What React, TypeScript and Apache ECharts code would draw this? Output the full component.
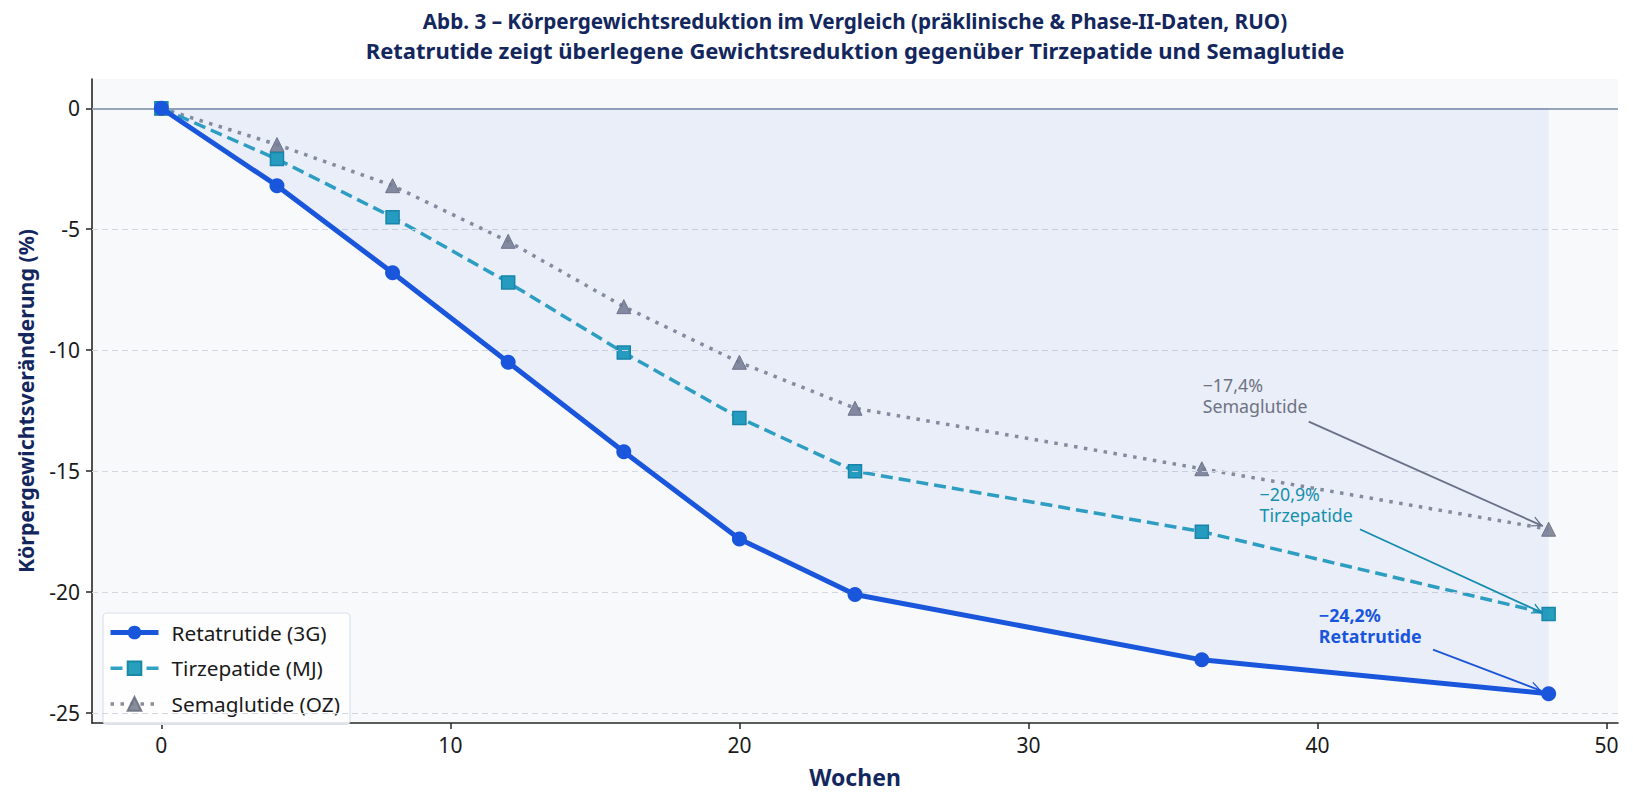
import React, { useEffect, useRef } from "react";
import * as echarts from "echarts";

// ---- data ----
const weeks = [0, 4, 8, 12, 16, 20, 24, 36, 48];
const retatrutide = [0, -3.2, -6.8, -10.5, -14.2, -17.8, -20.1, -22.8, -24.2];
const tirzepatide = [0, -2.1, -4.5, -7.2, -10.1, -12.8, -15.0, -17.5, -20.9];
const semaglutide = [0, -1.5, -3.2, -5.5, -8.2, -10.5, -12.4, -14.9, -17.4];
const seriesNames = ["Retatrutide (3G)", "Tirzepatide (MJ)", "Semaglutide (OZ)"];
const drugNames = ["Retatrutide", "Tirzepatide", "Semaglutide"];
const xTicks = [0, 10, 20, 30, 40, 50];
const yTicks = [0, -5, -10, -15, -20, -25];
const gridTicks = [-5, -10, -15, -20, -25];

const titleLines = [
  "Abb. 3 – Körpergewichtsreduktion im Vergleich (präklinische & Phase-II-Daten, RUO)",
  "Retatrutide zeigt überlegene Gewichtsreduktion gegenüber Tirzepatide und Semaglutide",
];

// annotation layout (text anchor, arrow start, arrow tip) in data coordinates
const annotationLayout = [
  { text: [40.05, -21.36], from: [44.0, -22.38], to: [47.75, -24.08] },
  { text: [38.0, -16.36], from: [41.47, -17.4], to: [47.8, -20.87] },
  { text: [36.03, -11.87], from: [39.7, -12.95], to: [47.8, -17.27] },
];

const FONT = "'Noto Sans', 'DejaVu Sans', sans-serif";
const NAVY = "#13275e";
const colors = ["#1a56db", "#2fa3c1", "#8b8f9b"];
const annColors = ["#1a56db", "#1590ad", "#6e7382"];
const legendLineWidths = [5, 3.5, 3.5];

const chevron =
  "path://M5,0 L5.01,0.01 L5,0.01 Z M5,10 L10,20 L8.7,20 L5,12.6 L1.3,20 L0,20 Z";

const fmtPct = (v: number) =>
  (v < 0 ? "\u2212" : "") + Math.abs(v).toFixed(1).replace(".", ",") + "%";

const allValues = [retatrutide, tirzepatide, semaglutide];

function annotationFor(i: number) {
  const vals = allValues[i];
  const last = vals[vals.length - 1];
  const lay = annotationLayout[i];
  const color = annColors[i];
  return {
    markPoint: {
      silent: true,
      animation: false,
      symbol: "circle",
      symbolSize: 0,
      itemStyle: { color: "transparent" },
      data: [
        {
          coord: lay.text,
          symbolSize: 0,
          label: {
            show: true,
            position: "right",
            distance: 0,
            formatter: fmtPct(last) + "\n" + drugNames[i],
            color,
            fontSize: 17.8,
            lineHeight: 21,
            fontFamily: FONT,
            fontWeight: i === 0 ? "bold" : "normal",
            align: "left",
            verticalAlign: "middle",
          },
        },
      ],
    },
    markLine: {
      silent: true,
      animation: false,
      symbol: ["none", chevron],
      symbolSize: [11, 22],
      label: { show: false },
      lineStyle: { color, width: 1.8, type: "solid" },
      data: [[{ coord: lay.from }, { coord: lay.to }]],
    },
  };
}

const pairs = (vals: number[]) => weeks.map((w, i) => [w, vals[i]]);

export default function App() {
  const ref = useRef<HTMLDivElement>(null);

  useEffect(() => {
    if (!ref.current) return;
    const chart = echarts.init(ref.current, null, { renderer: "svg" });

    const lineTypes: any[] = ["solid", [12, 6], [3.5, 6.5]];

    const option: any = {
      animation: false,
      backgroundColor: "#ffffff",
      textStyle: { fontFamily: FONT },
      title: {
        text: "{a|" + titleLines[0] + "}\n{b|" + titleLines[1] + "}",
        left: 855,
        top: 6,
        padding: 0,
        textAlign: "center",
        textStyle: {
          fontFamily: FONT,
          fontSize: 21,
          fontWeight: "bold",
          color: NAVY,
          lineHeight: 29.5,
          rich: {
            a: { fontFamily: FONT, fontSize: 20.7, fontWeight: "bold", color: NAVY, lineHeight: 29.5 },
            b: { fontFamily: FONT, fontSize: 22, fontWeight: "bold", color: NAVY, lineHeight: 29.5 },
          },
        },
      },
      grid: {
        left: 92,
        right: 15,
        top: 79,
        bottom: 84,
        show: true,
        backgroundColor: "#f8f9fb",
        borderWidth: 0,
      },
      legend: {
        data: seriesNames.map((n, i) => ({
          name: n,
          lineStyle: { width: legendLineWidths[i], type: lineTypes[i], color: colors[i] },
        })),
        orient: "vertical",
        left: 103,
        top: 613,
        padding: [9, 10, 10, 5],
        itemGap: 14.7,
        itemWidth: 48,
        itemHeight: 17,
        backgroundColor: "rgba(255,255,255,0.85)",
        borderColor: "#d9e0ec",
        borderWidth: 1.2,
        borderRadius: 4,
        textStyle: {
          fontFamily: FONT,
          fontSize: 20.8,
          color: "#1a1a1a",
          padding: [0, 0, 0, 8],
        },
      },
      xAxis: {
        type: "value",
        min: -2.4,
        max: 50.4,
        name: "Wochen",
        nameLocation: "middle",
        nameGap: 42,
        nameTextStyle: { fontFamily: FONT, fontSize: 23, fontWeight: "bold", color: NAVY },
        axisLine: { show: true, onZero: false, lineStyle: { color: "#262626", width: 1.6 } },
        axisTick: { show: true, length: 6, customValues: xTicks, lineStyle: { color: "#262626", width: 1.5 } },
        axisLabel: {
          customValues: xTicks,
          fontFamily: FONT,
          fontSize: 21,
          color: "#1a1a1a",
          margin: 11,
          formatter: (v: number) => String(v),
        },
        splitLine: { show: false },
      },
      yAxis: {
        type: "value",
        min: -25.41,
        max: 1.21,
        name: "Körpergewichtsveränderung (%)",
        nameLocation: "middle",
        nameGap: 56,
        nameRotate: 90,
        nameTextStyle: { fontFamily: FONT, fontSize: 21.3, fontWeight: "bold", color: NAVY },
        axisLine: { show: true, onZero: false, lineStyle: { color: "#262626", width: 1.6 } },
        axisTick: { show: true, length: 6, customValues: yTicks, lineStyle: { color: "#262626", width: 1.5 } },
        axisLabel: {
          customValues: yTicks,
          fontFamily: FONT,
          fontSize: 21,
          color: "#1a1a1a",
          margin: 12,
          formatter: (v: number) => String(v),
        },
        splitLine: { show: false },
      },
      series: [
        {
          name: "__grid",
          type: "line",
          data: [[weeks[0], 0]],
          symbol: "none",
          lineStyle: { width: 0, opacity: 0 },
          silent: true,
          z: 1,
          markLine: {
            silent: true,
            animation: false,
            symbol: ["none", "none"],
            label: { show: false },
            data: [
              ...gridTicks.map((t) => ({
                yAxis: t,
                lineStyle: { color: "#d3d7de", width: 1.2, type: [6, 4] },
              })),
              { yAxis: 0, lineStyle: { color: "#97a5ba", width: 1.8, type: "solid" } },
            ],
          },
        },
        {
          name: seriesNames[2],
          type: "line",
          data: pairs(semaglutide),
          z: 3,
          symbol: "triangle",
          symbolSize: 14,
          lineStyle: { color: colors[2], width: 3.5, type: lineTypes[2], cap: "butt" },
          itemStyle: { color: "#7c8191", borderColor: "#6b7080", borderWidth: 1, opacity: 0.9 },
          ...annotationFor(2),
        },
        {
          name: seriesNames[1],
          type: "line",
          data: pairs(tirzepatide),
          z: 4,
          symbol: "rect",
          symbolSize: 13,
          lineStyle: { color: colors[1], width: 3.5, type: lineTypes[1], cap: "butt" },
          itemStyle: { color: "#27a0be", borderColor: "#1789a6", borderWidth: 1.5 },
          ...annotationFor(1),
        },
        {
          name: seriesNames[0],
          type: "line",
          data: pairs(retatrutide),
          z: 5,
          symbol: "circle",
          symbolSize: 15,
          lineStyle: { color: colors[0], width: 5 },
          itemStyle: { color: colors[0], borderColor: colors[0], borderWidth: 0 },
          areaStyle: { color: "rgba(26,86,219,0.09)", origin: "auto" },
          ...annotationFor(0),
        },
      ],
    };

    chart.setOption(option);
    return () => chart.dispose();
  }, []);

  return (
    <div
      ref={ref}
      style={{ position: "fixed", left: 0, top: 0, width: 1633, height: 807, background: "#fff" }}
    />
  );
}
